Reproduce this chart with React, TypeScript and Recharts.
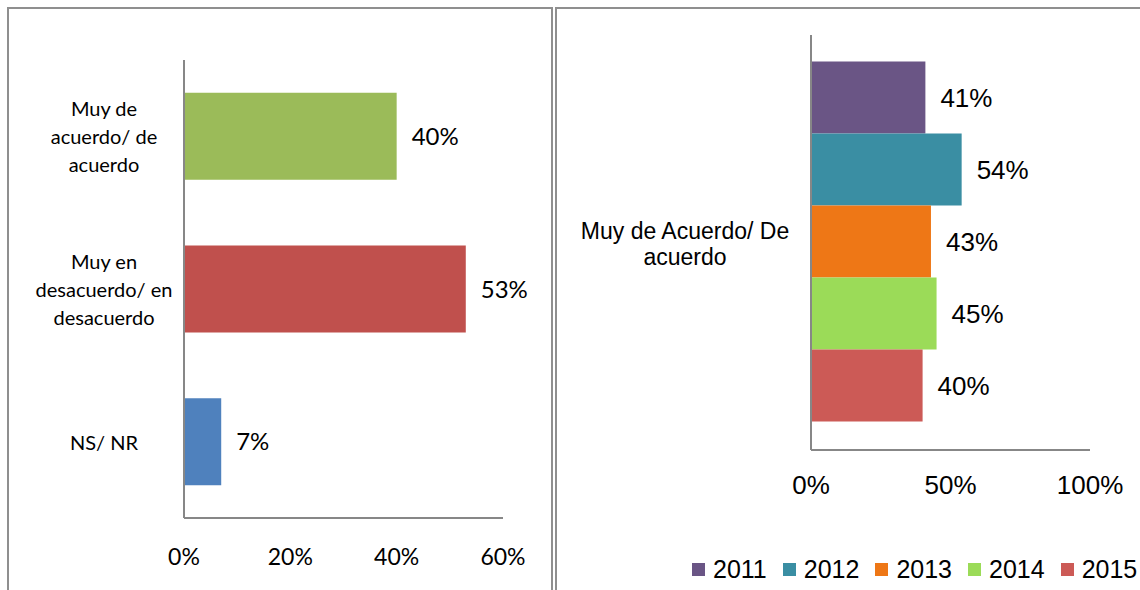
import { BarChart, Bar, XAxis, YAxis, Cell, LabelList } from "recharts";

const opinionCategories = ["Muy de acuerdo/ de acuerdo", "Muy en desacuerdo/ en desacuerdo", "NS/ NR"];
const opinionLines = [["Muy de", "acuerdo/ de", "acuerdo"], ["Muy en", "desacuerdo/ en", "desacuerdo"], ["NS/ NR"]];
const opinionValues = [0.4, 0.53, 0.07];
const opinionColors = ["#9BBB59", "#C0504D", "#4F81BD"];
const opinionTicks = [0, 0.2, 0.4, 0.6];

const trendCategory = "Muy de Acuerdo/ De acuerdo";
const trendLines = ["Muy de Acuerdo/ De", "acuerdo"];
const years = ["2011", "2012", "2013", "2014", "2015"];
const yearValues = [0.41, 0.54, 0.43, 0.45, 0.4];
const yearColors = ["#6A5585", "#3A8EA3", "#EE7716", "#9BDB58", "#CC5A56"];
const trendTicks = [0, 0.5, 1];

const calibriLike = "Lato, 'Open Sans', sans-serif";
const arialLike = "'Liberation Sans', Arial, sans-serif";
const axisGrey = "#878787";
const pct = (v: number) => `${Math.round(v * 100)}%`;

const opinionData = opinionCategories.map((name, i) => ({ name, value: opinionValues[i] }));
const trendData = [
  { name: trendCategory, ...Object.fromEntries(years.map((y, i) => [y, yearValues[i]])) },
];

function OpinionTick(props: any) {
  const idx = opinionCategories.indexOf(props.payload.value);
  const lines = opinionLines[idx] ?? [props.payload.value];
  const start = -((lines.length - 1) * 28) / 2;
  return (
    <g>
      {lines.map((line, i) => (
        <text
          key={line}
          x={props.x - 80}
          y={props.y + start + i * 28}
          textAnchor="middle"
          dominantBaseline="central"
          fontSize={20}
          fontFamily={calibriLike}
          fill="#000"
        >
          {line}
        </text>
      ))}
    </g>
  );
}

function TrendTick(props: any) {
  return (
    <g>
      {trendLines.map((line, i) => (
        <text
          key={line}
          x={props.x - 126}
          y={props.y - 12 + i * 26}
          textAnchor="middle"
          dominantBaseline="central"
          fontSize={23}
          fontFamily={arialLike}
          fill="#000"
        >
          {line}
        </text>
      ))}
    </g>
  );
}

export default function App() {
  return (
    <div
      style={{
        position: "absolute",
        left: 0,
        top: 0,
        width: 1140,
        height: 590,
        overflow: "hidden",
        background: "#fff",
      }}
    >
      {/* panel frames */}
      <div style={{ position: "absolute", left: 7, top: 7, width: 542, height: 620, border: "2px solid #8f8f8f" }} />
      <div style={{ position: "absolute", left: 555, top: 7, width: 700, height: 620, border: "2px solid #8f8f8f" }} />

      <div style={{ position: "absolute", left: 0, top: 0 }}>
        <BarChart
          width={550}
          height={590}
          layout="vertical"
          data={opinionData}
          margin={{ top: 60, right: 47, bottom: 0, left: 0 }}
          barCategoryGap="21.5%"
        >
          <XAxis
            type="number"
            domain={[0, 0.6]}
            ticks={opinionTicks}
            tickFormatter={pct}
            height={72}
            tickSize={0}
            tickMargin={31}
            axisLine={{ stroke: axisGrey, strokeWidth: 2 }}
            tick={{ fontSize: 23, fontFamily: calibriLike, fill: "#000" }}
          />
          <YAxis
            type="category"
            dataKey="name"
            width={184}
            tickSize={0}
            tickMargin={0}
            axisLine={{ stroke: axisGrey, strokeWidth: 2 }}
            tick={OpinionTick}
          />
          <Bar dataKey="value" isAnimationActive={false}>
            {opinionData.map((d, i) => (
              <Cell key={d.name} fill={opinionColors[i]} />
            ))}
            <LabelList
              dataKey="value"
              position="right"
              offset={15}
              formatter={(v: any) => pct(Number(v))}
              style={{ fontSize: 24, fontFamily: calibriLike, fill: "#000" }}
            />
          </Bar>
        </BarChart>
      </div>

      <div style={{ position: "absolute", left: 556, top: 0 }}>
        <BarChart
          width={640}
          height={590}
          layout="vertical"
          data={trendData}
          margin={{ top: 35, right: 106, bottom: 90, left: 0 }}
          barCategoryGap="6.4%"
          barGap={0}
        >
          <XAxis
            type="number"
            domain={[0, 1]}
            ticks={trendTicks}
            tickFormatter={pct}
            height={50}
            tickSize={0}
            tickMargin={26}
            axisLine={{ stroke: axisGrey, strokeWidth: 2 }}
            tick={{ fontSize: 26, fontFamily: arialLike, fill: "#000" }}
          />
          <YAxis
            type="category"
            dataKey="name"
            width={255}
            tickSize={0}
            tickMargin={0}
            axisLine={{ stroke: axisGrey, strokeWidth: 2 }}
            tick={TrendTick}
          />
          {years.map((y, i) => (
            <Bar key={y} dataKey={y} fill={yearColors[i]} isAnimationActive={false}>
              <LabelList
                dataKey={y}
                position="right"
                offset={15}
                formatter={(v: any) => pct(Number(v))}
                style={{ fontSize: 26, fontFamily: arialLike, fill: "#000" }}
              />
            </Bar>
          ))}
        </BarChart>
      </div>

      {/* legend */}
      <div
        style={{
          position: "absolute",
          left: 692,
          top: 555,
          display: "flex",
          alignItems: "center",
          whiteSpace: "nowrap",
          fontFamily: arialLike,
          fontSize: 25,
          color: "#000",
        }}
      >
        {years.map((y, i) => (
          <span key={y} style={{ display: "inline-flex", alignItems: "center", marginRight: 16 }}>
            <span style={{ width: 13, height: 13, background: yearColors[i], marginRight: 8 }} />
            {y}
          </span>
        ))}
      </div>
    </div>
  );
}
